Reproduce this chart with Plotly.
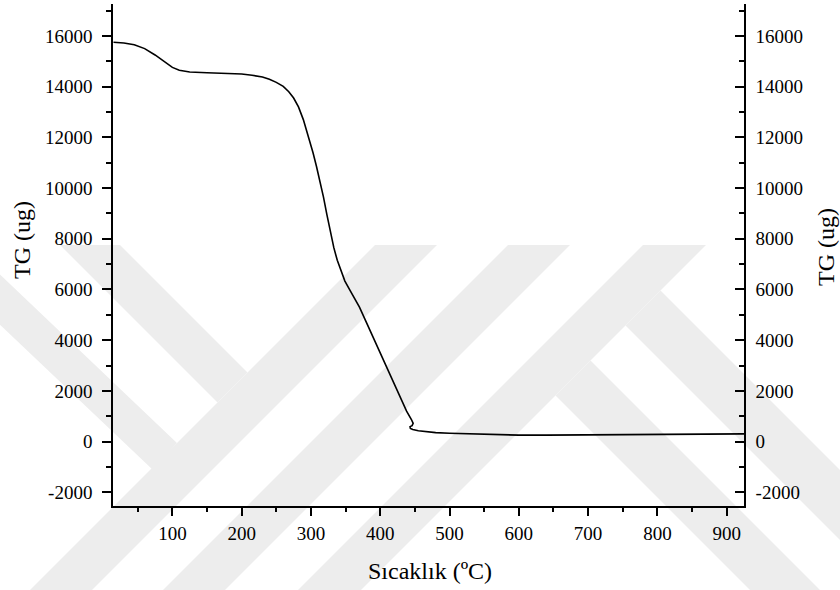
import plotly.graph_objects as go

# ---- data ----
temperature_c = [15, 30, 45, 60, 75, 90, 100, 110, 125, 150, 175, 200, 215, 230, 240, 250,
                 260, 268, 275, 282, 289, 296, 303, 308, 313, 318, 323, 328, 333, 338, 343,
                 349, 356, 363, 370, 380, 390, 400, 410, 420, 430, 438, 445, 447.5, 446,
                 443, 443.5, 447, 455, 465, 480, 500, 520, 543, 570, 600, 640, 680, 720,
                 760, 800, 850, 900, 925]
tg_ug = [15750, 15720, 15650, 15500, 15250, 14950, 14760, 14650, 14580, 14550, 14530, 14500,
         14450, 14380, 14290, 14170, 14010, 13800, 13550, 13200, 12700, 12080, 11390, 10850,
         10300, 9650, 8950, 8300, 7650, 7150, 6750, 6330, 5980, 5620, 5300, 4700, 4100, 3500,
         2900, 2300, 1680, 1200, 870, 720, 630, 590, 520, 475, 430, 390, 355, 330, 315, 285,
         265, 255, 255, 265, 275, 285, 290, 295, 300, 305]

y_tick_vals = [-2000, 0, 2000, 4000, 6000, 8000, 10000, 12000, 14000, 16000]
y_tick_text = ["-2000", "0", "2000", "4000", "6000", "8000", "10000", "12000", "14000", "16000"]
x_tick_vals = [100, 200, 300, 400, 500, 600, 700, 800, 900]
x_tick_text = ["100", "200", "300", "400", "500", "600", "700", "800", "900"]

x_title = "Sıcaklık (ºC)"
y_title = "TG (ug)"
x_range = [14.3, 925]
y_range = [-2540, 17260]

W, H = 840, 590
ML, MR, MT, MB = 113, 96, 4, 84
FONT = "Liberation Serif, Times New Roman, serif"

fig = go.Figure()
fig.add_trace(go.Scatter(x=temperature_c, y=tg_ug, mode="lines",
                         line=dict(color="black", width=1.6), showlegend=False,
                         hoverinfo="skip"))
fig.add_trace(go.Scatter(x=temperature_c, y=tg_ug, mode="lines", yaxis="y2",
                         line=dict(color="rgba(0,0,0,0)", width=0), showlegend=False,
                         hoverinfo="skip"))

# ---- light watermark stripes (pixel polygons -> paper coords) ----
pw, ph = W - ML - MR, H - MT - MB
def px2paper(pts):
    return [((x - ML) / pw, (H - MB - y) / ph) for x, y in pts]

stripes = [
    [(60, 245), (120, 245), (247.5, 372.5), (217.5, 402.5)],
    [(375, 245), (437, 245), (92, 590), (30, 590)],
    [(-84, 245), (-31, 245), (177, 443), (153, 470)],
    [(508, 245), (570, 245), (225, 590), (163, 590)],
    [(643, 245), (706, 245), (361, 590), (298, 590)],
    [(555.5, 395.5), (590.5, 360.5), (820, 590), (750, 590)],
    [(625.5, 325.5), (660.5, 290.5), (900, 530), (900, 600)],
]
shapes = []
for poly in stripes:
    p = px2paper(poly)
    path = "M " + " L ".join(f"{x:.4f},{y:.4f}" for x, y in p) + " Z"
    shapes.append(dict(type="path", xref="paper", yref="paper", path=path,
                       fillcolor="#ededed", line=dict(width=0), layer="below"))

axis_common = dict(showgrid=False, zeroline=False, showline=True, linecolor="black",
                   linewidth=1.6, tickcolor="black", tickwidth=1.5,
                   tickfont=dict(family=FONT, size=19, color="black"))

fig.update_layout(
    width=W, height=H,
    margin=dict(l=ML, r=MR, t=MT, b=MB),
    paper_bgcolor="white", plot_bgcolor="rgba(0,0,0,0)",
    shapes=shapes,
    xaxis=dict(range=x_range, tickmode="array", tickvals=x_tick_vals, ticktext=x_tick_text,
               ticks="outside", ticklen=8,
               minor=dict(ticks="outside", ticklen=4, dtick=50, tick0=0,
                          tickcolor="black", tickwidth=1.5),
               ticklabelstandoff=1,
               **axis_common),
    yaxis=dict(range=y_range, tickmode="array", tickvals=y_tick_vals, ticktext=y_tick_text,
               ticks="outside", ticklen=9,
               minor=dict(ticks="outside", ticklen=5, dtick=1000, tick0=0,
                          tickcolor="black", tickwidth=1.5),
               ticklabelstandoff=6,
               **axis_common),
    yaxis2=dict(range=y_range, tickmode="array", tickvals=y_tick_vals, ticktext=y_tick_text,
                ticks="inside", ticklen=9,
                overlaying="y", side="right", anchor="x",
                minor=dict(ticks="inside", ticklen=5, dtick=1000, tick0=0,
                           tickcolor="black", tickwidth=1.5),
                ticklabelstandoff=6,
                **axis_common),
    annotations=[
        dict(text=x_title, xref="paper", yref="paper", x=(430 - ML) / pw,
             y=(H - MB - 571) / ph, showarrow=False,
             font=dict(family=FONT, size=24, color="black"), xanchor="center", yanchor="middle"),
        dict(text=y_title, xref="paper", yref="paper", x=(22 - ML) / pw,
             y=(H - MB - 240) / ph, showarrow=False, textangle=-90,
             font=dict(family=FONT, size=24, color="black"), xanchor="center", yanchor="middle"),
        dict(text=y_title, xref="paper", yref="paper", x=(826 - ML) / pw,
             y=(H - MB - 247) / ph, showarrow=False, textangle=-90,
             font=dict(family=FONT, size=24, color="black"), xanchor="center", yanchor="middle"),
    ],
)

fig.write_html("out.html")
